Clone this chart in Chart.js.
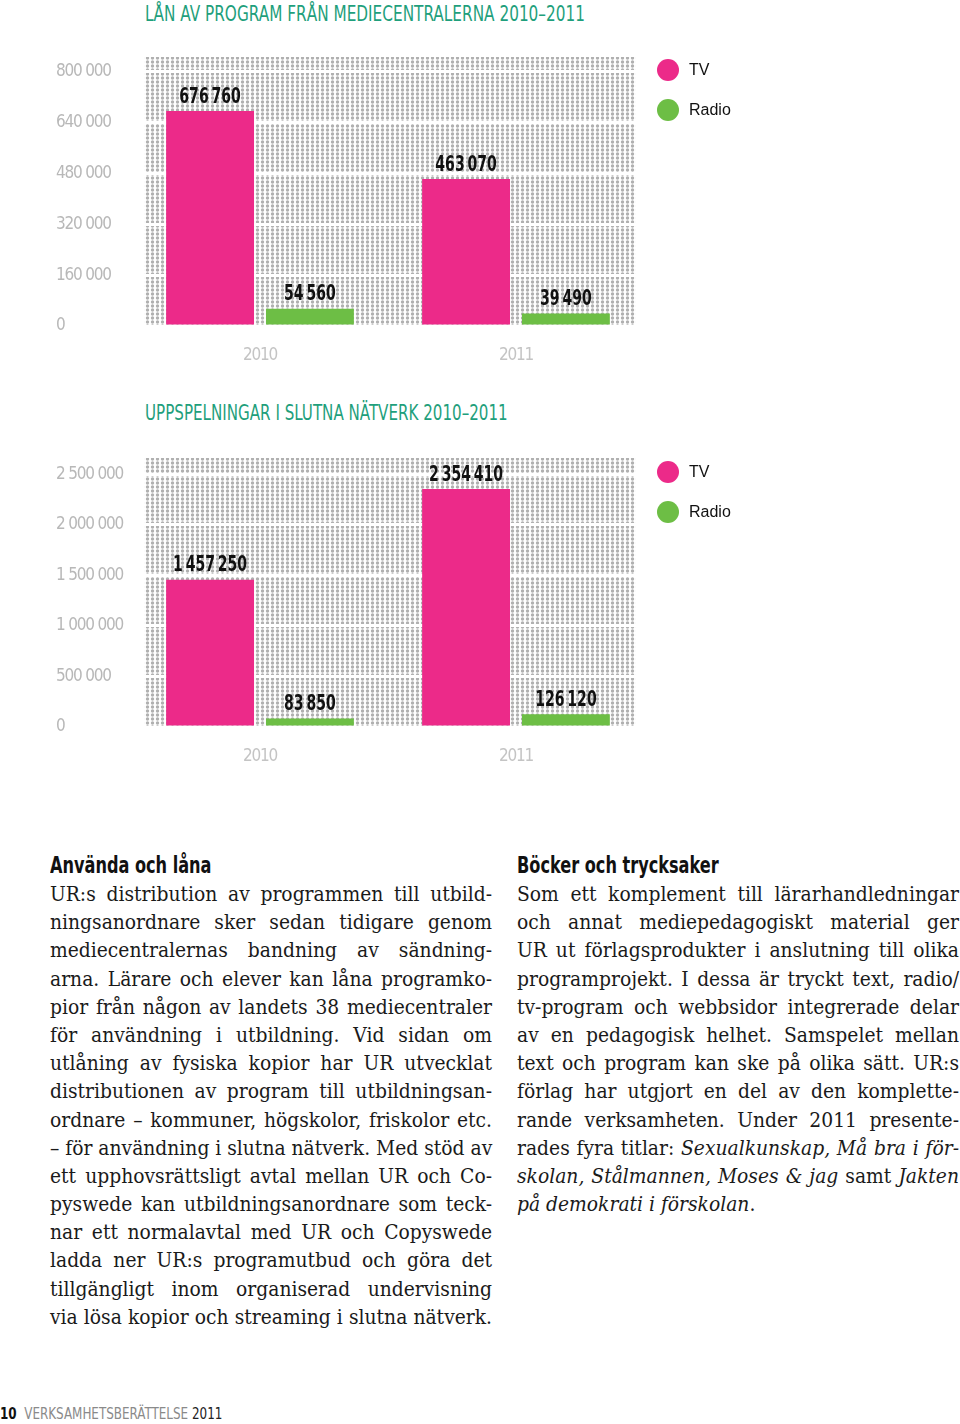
<!DOCTYPE html>
<html lang="sv">
<head>
<meta charset="utf-8">
<script src="https://cdn.jsdelivr.net/npm/chart.js@4.4.1/dist/chart.umd.min.js"></script>
<style>
  body { margin: 0; width: 960px; height: 1424px; position: relative; background: #fff; overflow: hidden; }
  .cond { font-family: "DejaVu Sans Condensed", "Liberation Sans Narrow", "Liberation Sans", sans-serif; }
  .title { position: absolute; left: 145px; font-size: 21px; color: #1f9f7c; transform: scaleX(0.81); transform-origin: left top; white-space: nowrap; }
  canvas { position: absolute; left: 0; }
  .legend { position: absolute; left: 657px; font-family: "Liberation Sans", Arial, sans-serif; font-size: 16px; color: #111; }
  .legend div { height: 40px; line-height: 22px; position: relative; padding-left: 32px; }
  .legend span { position: absolute; left: 0; top: 0; width: 22px; height: 22px; border-radius: 50%; }
  .col { position: absolute; top: 850px; width: 442px; font-family: "DejaVu Serif Condensed", "DejaVu Serif", serif; font-stretch: condensed; font-size: 20.8px; color: #1a1a1a; }
  .col h3 { margin: 0; font-size: 23px; line-height: 30px; font-weight: bold; color: #111; font-family: "DejaVu Sans Condensed", sans-serif; font-stretch: normal; transform: scaleX(0.78); transform-origin: left top; white-space: nowrap; }
  .col .l { height: 28.2px; line-height: 28.2px; text-align: justify; text-align-last: justify; white-space: nowrap; }
  .col .l.end { text-align-last: left; }
  .footer { position: absolute; left: 0; top: 1404px; font-size: 16px; transform: scaleX(0.83); transform-origin: left top; white-space: nowrap; }
</style>
</head>
<body>

<div class="title cond" style="top:2px">LÅN AV PROGRAM FRÅN MEDIECENTRALERNA 2010–2011</div>
<canvas id="loans" width="960" height="330" style="top:40px"></canvas>
<div class="legend" style="top:59px">
  <div><span style="background:#ec2a89"></span>TV</div>
  <div><span style="background:#6dbe45"></span>Radio</div>
</div>

<div class="title cond" style="top:401px; transform: scaleX(0.8)">UPPSPELNINGAR I SLUTNA NÄTVERK 2010–2011</div>
<canvas id="plays" width="960" height="330" style="top:441px"></canvas>
<div class="legend" style="top:461px">
  <div><span style="background:#ec2a89"></span>TV</div>
  <div><span style="background:#6dbe45"></span>Radio</div>
</div>

<div class="col" style="left:50px">
  <h3>Använda och låna</h3>
  <div class="l">UR:s distribution av programmen till utbild-</div>
  <div class="l">ningsanordnare sker sedan tidigare genom</div>
  <div class="l">mediecentralernas bandning av sändning-</div>
  <div class="l">arna. Lärare och elever kan låna programko-</div>
  <div class="l">pior från någon av landets 38 mediecentraler</div>
  <div class="l">för användning i utbildning. Vid sidan om</div>
  <div class="l">utlåning av fysiska kopior har UR utvecklat</div>
  <div class="l">distributionen av program till utbildningsan-</div>
  <div class="l">ordnare – kommuner, högskolor, friskolor etc.</div>
  <div class="l">– för användning i slutna nätverk. Med stöd av</div>
  <div class="l">ett upphovsrättsligt avtal mellan UR och Co-</div>
  <div class="l">pyswede kan utbildningsanordnare som teck-</div>
  <div class="l">nar ett normalavtal med UR och Copyswede</div>
  <div class="l">ladda ner UR:s programutbud och göra det</div>
  <div class="l">tillgängligt inom organiserad undervisning</div>
  <div class="l">via lösa kopior och streaming i slutna nätverk.</div>
</div>

<div class="col" style="left:517px">
  <h3>Böcker och trycksaker</h3>
  <div class="l">Som ett komplement till lärarhandledningar</div>
  <div class="l">och annat mediepedagogiskt material ger</div>
  <div class="l">UR ut förlagsprodukter i anslutning till olika</div>
  <div class="l">programprojekt. I dessa är tryckt text, radio/</div>
  <div class="l">tv-program och webbsidor integrerade delar</div>
  <div class="l">av en pedagogisk helhet. Samspelet mellan</div>
  <div class="l">text och program kan ske på olika sätt. UR:s</div>
  <div class="l">förlag har utgjort en del av den komplette-</div>
  <div class="l">rande verksamheten. Under 2011 presente-</div>
  <div class="l">rades fyra titlar: <i>Sexualkunskap, Må bra i för-</i></div>
  <div class="l"><i>skolan, Stålmannen, Moses &amp; jag</i> samt <i>Jakten</i></div>
  <div class="l end"><i>på demokrati i förskolan</i>.</div>
</div>

<div class="footer cond"><b style="color:#111">10</b>&nbsp; <span style="color:#8a8a8a">VERKSAMHETSBERÄTTELSE</span> <span style="color:#222">2011</span></div>

<script>
// Data
const years = ["2010", "2011"];
const loansTV = [676760, 463070];
const loansRadio = [54560, 39490];
const playsTV = [1457250, 2354410];
const playsRadio = [83850, 126120];

const loansTicks = [0, 160000, 320000, 480000, 640000, 800000];
const playsTicks = [0, 500000, 1000000, 1500000, 2000000, 2500000];

const PINK = "#ec2a89";
const GREEN = "#6dbe45";
const COND = '"DejaVu Sans Condensed", "Liberation Sans Narrow", "Liberation Sans", sans-serif';

// 676760 -> "676 760"
function fmt(v, sep = "\u2009") {
  return String(v).replace(/\B(?=(\d{3})+(?!\d))/g, sep);
}

// Prickad bakgrund
function dotPattern(ctx) {
  const c = document.createElement("canvas");
  c.width = 5; c.height = 4;
  const p = c.getContext("2d");
  p.fillStyle = "#b0b0b0";
  p.beginPath();
  p.arc(2.5, 2, 1.7, 0, Math.PI * 2);
  p.fill();
  return ctx.createPattern(c, "repeat");
}

const dotsPlugin = {
  id: "dots",
  beforeDraw(chart) {
    const { ctx, chartArea: a } = chart;
    ctx.save();
    ctx.fillStyle = dotPattern(ctx);
    ctx.fillRect(a.left + 12, a.top, a.right - a.left - 20, a.bottom - a.top);
    ctx.restore();
    // tätare text för axlarna
    ctx.letterSpacing = "-1.2px";
  },
  afterDraw(chart) {
    chart.ctx.letterSpacing = "0px";
  }
};

// Värden ovanför staplarna
const valuePlugin = {
  id: "values",
  afterDatasetsDraw(chart) {
    const ctx = chart.ctx;
    chart.data.datasets.forEach((ds, i) => {
      chart.getDatasetMeta(i).data.forEach((bar, j) => {
        ctx.save();
        ctx.letterSpacing = "0px";
        ctx.font = "bold 22px " + COND;
        ctx.fillStyle = "#111";
        ctx.textAlign = "center";
        ctx.textBaseline = "bottom";
        ctx.translate(bar.x, bar.y - 3);
        ctx.scale(0.71, 1);
        ctx.fillText(fmt(ds.data[j]), 0, 0);
        ctx.restore();
      });
    });
  }
};

function makeChart(id, tv, radio, ticks, max) {
  new Chart(document.getElementById(id), {
    type: "bar",
    data: {
      labels: years,
      datasets: [
        { label: "TV", data: tv, backgroundColor: PINK },
        { label: "Radio", data: radio, backgroundColor: GREEN },
      ],
    },
    options: {
      responsive: false,
      animation: false,
      layout: { padding: { left: 56, right: 316, top: 17, bottom: 4 } },
      datasets: { bar: { categoryPercentage: 0.78, barPercentage: 0.88 } },
      plugins: { legend: { display: false }, tooltip: { enabled: false } },
      scales: {
        x: {
          grid: { display: false },
          border: { display: false },
          ticks: { color: "#c4c4c4", font: { family: COND, size: 17 }, padding: 11 },
          afterFit(scale) { scale.height = 40; },
        },
        y: {
          min: 0,
          max: max,
          border: { display: false },
          grid: { color: "#fff", lineWidth: 3, drawTicks: false },
          afterBuildTicks(scale) { scale.ticks = ticks.map(v => ({ value: v })); },
          ticks: {
            crossAlign: "far",
            color: "#b8b8b8",
            font: { family: COND, size: 17 },
            callback: v => fmt(v, " "),
          },
          afterFit(scale) { scale.width = 76; },
        },
      },
    },
    plugins: [dotsPlugin, valuePlugin],
  });
}

makeChart("loans", loansTV, loansRadio, loansTicks, 847000);
makeChart("plays", playsTV, playsRadio, playsTicks, 2660000);
</script>
</body>
</html>
